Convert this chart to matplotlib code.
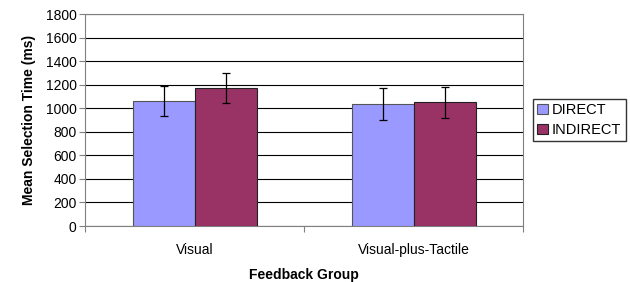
import matplotlib.pyplot as plt
import numpy as np

plt.rcParams['font.family'] = ['Liberation Sans', 'DejaVu Sans']

groups = ['Visual', 'Visual-plus-Tactile']
direct = [1060, 1035]
indirect = [1175, 1050]
direct_err = [125, 135]
indirect_err = [128, 132]

fig = plt.figure(figsize=(6.3, 2.82), dpi=100)
ax = fig.add_axes([85/630, 1 - 226/282, 438/630, 212/282])

x = np.arange(len(groups))
w = 62/219
ax.bar(x - w/2, direct, w, color='#9999FF', edgecolor='#555555', linewidth=0.8,
       label='DIRECT', zorder=3)
ax.bar(x + w/2, indirect, w, color='#993366', edgecolor='#222222', linewidth=0.8,
       label='INDIRECT', zorder=3)
ax.errorbar(x - w/2, direct, yerr=direct_err, fmt='none', ecolor='black',
            elinewidth=0.9, capsize=3, capthick=0.9, zorder=4)
ax.errorbar(x + w/2, indirect, yerr=indirect_err, fmt='none', ecolor='black',
            elinewidth=0.9, capsize=3, capthick=0.9, zorder=4)

ax.set_xlim(-0.5, 1.5)
ax.set_ylim(0, 1800)
ax.set_yticks(range(0, 1801, 200))
ax.yaxis.grid(True, color='black', linewidth=0.8, zorder=0)
ax.set_axisbelow(True)
ax.set_xticks([-0.5, 0.5, 1.5], minor=False)
ax.set_xticklabels([])
ax.set_xticks(x, minor=True)
ax.set_xticklabels(groups, minor=True)
ax.tick_params(axis='x', which='minor', length=0, pad=12, labelsize=10)
ax.tick_params(axis='x', which='major', length=4, direction='out', color='#808080')
ax.tick_params(axis='y', length=4, color='#808080', labelsize=10, pad=2)
for s in ax.spines.values():
    s.set_color('#808080')

ax.set_ylabel('Mean Selection Time (ms)', fontsize=10, fontweight='bold', labelpad=7)
ax.set_xlabel('Feedback Group', fontsize=10, fontweight='bold', labelpad=8)

ax.legend(loc='center left', bbox_to_anchor=(1.023, 0.5), frameon=True, fancybox=False,
          edgecolor='black', fontsize=10.5, handlelength=0.7, handleheight=0.7,
          handletextpad=0.3, borderpad=0.3, labelspacing=0.4, borderaxespad=0)

fig.savefig('out.png', dpi=100)
